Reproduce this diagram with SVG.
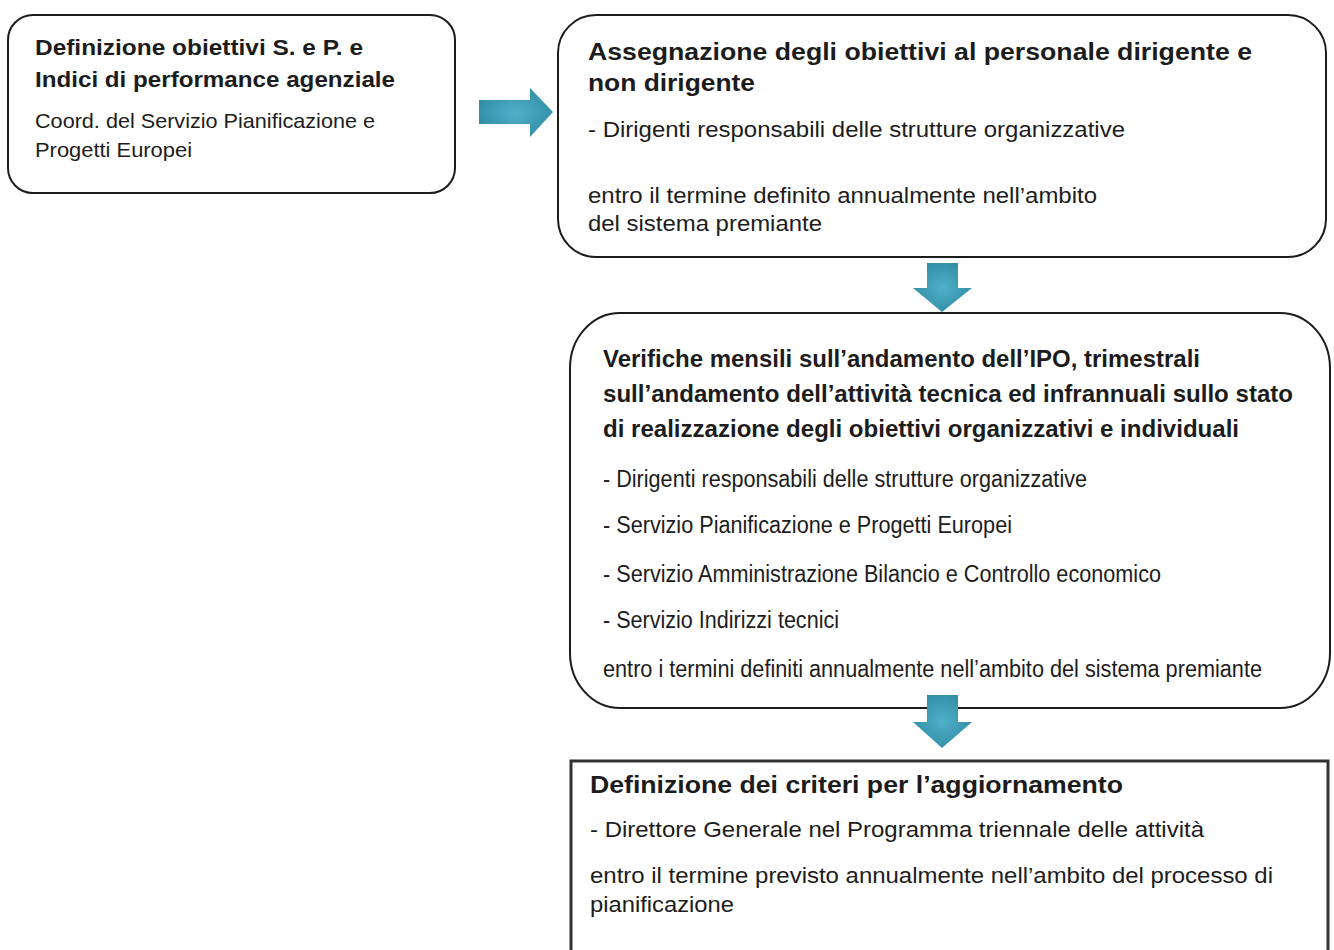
<svg xmlns="http://www.w3.org/2000/svg" width="1334" height="950" viewBox="0 0 1334 950">
<style>
.box{fill:#ffffff;stroke:#1c1c1c;stroke-width:2}
.sq{fill:#ffffff;stroke:#333333;stroke-width:3}
.t{font-family:"Liberation Sans",Arial,sans-serif;fill:#1c1c1c}
.b{font-weight:bold}
.arrow{fill:url(#teal)}
</style>
<defs>
<radialGradient id="teal" cx="50%" cy="50%" r="60%">
<stop offset="0" stop-color="#4fb0c8"/>
<stop offset="1" stop-color="#2e8aa3"/>
</radialGradient>
</defs>
<rect width="1334" height="950" fill="#ffffff"/>
<g id="node-definizione-obiettivi">
<rect class="box" x="8" y="15" width="447" height="178" rx="25" ry="25"/>
<text class="t b" x="35" y="55" font-size="22" textLength="328" lengthAdjust="spacingAndGlyphs">Definizione obiettivi S. e P. e</text>
<text class="t b" x="35" y="87" font-size="22" textLength="360" lengthAdjust="spacingAndGlyphs">Indici di performance agenziale</text>
<text class="t" x="35" y="128" font-size="21" textLength="340" lengthAdjust="spacingAndGlyphs">Coord. del Servizio Pianificazione e</text>
<text class="t" x="35" y="157" font-size="21" textLength="157" lengthAdjust="spacingAndGlyphs">Progetti Europei</text>
</g>
<g id="node-assegnazione">
<rect class="box" x="558" y="15" width="768" height="242" rx="38" ry="38"/>
<text class="t b" x="588" y="60" font-size="23" textLength="664" lengthAdjust="spacingAndGlyphs">Assegnazione degli obiettivi al personale dirigente e</text>
<text class="t b" x="588" y="91" font-size="23" textLength="167" lengthAdjust="spacingAndGlyphs">non dirigente</text>
<text class="t" x="588" y="137" font-size="22" textLength="537" lengthAdjust="spacingAndGlyphs">- Dirigenti responsabili delle strutture organizzative</text>
<text class="t" x="588" y="203" font-size="22" textLength="509" lengthAdjust="spacingAndGlyphs">entro il termine definito annualmente nell’ambito</text>
<text class="t" x="588" y="231" font-size="22" textLength="234" lengthAdjust="spacingAndGlyphs">del sistema premiante</text>
</g>
<g id="node-verifiche">
<rect class="box" x="570" y="313" width="760" height="395" rx="50" ry="55"/>
<text class="t b" x="603" y="367" font-size="24" textLength="597" lengthAdjust="spacingAndGlyphs">Verifiche mensili sull’andamento dell’IPO, trimestrali</text>
<text class="t b" x="603" y="402" font-size="24" textLength="690" lengthAdjust="spacingAndGlyphs">sull’andamento dell’attività tecnica ed infrannuali sullo stato</text>
<text class="t b" x="603" y="437" font-size="24" textLength="636" lengthAdjust="spacingAndGlyphs">di realizzazione degli obiettivi organizzativi e individuali</text>
<text class="t" x="603" y="487" font-size="23" textLength="484" lengthAdjust="spacingAndGlyphs">- Dirigenti responsabili delle strutture organizzative</text>
<text class="t" x="603" y="533" font-size="23" textLength="409" lengthAdjust="spacingAndGlyphs">- Servizio Pianificazione e Progetti Europei</text>
<text class="t" x="603" y="582" font-size="23" textLength="558" lengthAdjust="spacingAndGlyphs">- Servizio Amministrazione Bilancio e Controllo economico</text>
<text class="t" x="603" y="628" font-size="23" textLength="236" lengthAdjust="spacingAndGlyphs">- Servizio Indirizzi tecnici</text>
<text class="t" x="603" y="677" font-size="23" textLength="659" lengthAdjust="spacingAndGlyphs">entro i termini definiti annualmente nell’ambito del sistema premiante</text>
</g>
<g id="node-criteri">
<rect class="sq" x="571" y="761" width="757" height="210"/>
<text class="t b" x="590" y="793" font-size="24" textLength="533" lengthAdjust="spacingAndGlyphs">Definizione dei criteri per l’aggiornamento</text>
<text class="t" x="590" y="837" font-size="22" textLength="614" lengthAdjust="spacingAndGlyphs">- Direttore Generale nel Programma triennale delle attività</text>
<text class="t" x="590" y="883" font-size="22" textLength="683" lengthAdjust="spacingAndGlyphs">entro il termine previsto annualmente nell’ambito del processo di</text>
<text class="t" x="590" y="912" font-size="22" textLength="144" lengthAdjust="spacingAndGlyphs">pianificazione</text>
</g>
<g id="connectors">
<polygon class="arrow" points="479,100 530,100 530,88 553,112 530,137 530,124 479,124"/>
<polygon class="arrow" points="927,263 958,263 958,288 972,288 942,312 913,288 927,288"/>
<polygon class="arrow" points="927,695 958,695 958,722 972,722 942,748 913,722 927,722"/>
</g>
</svg>
